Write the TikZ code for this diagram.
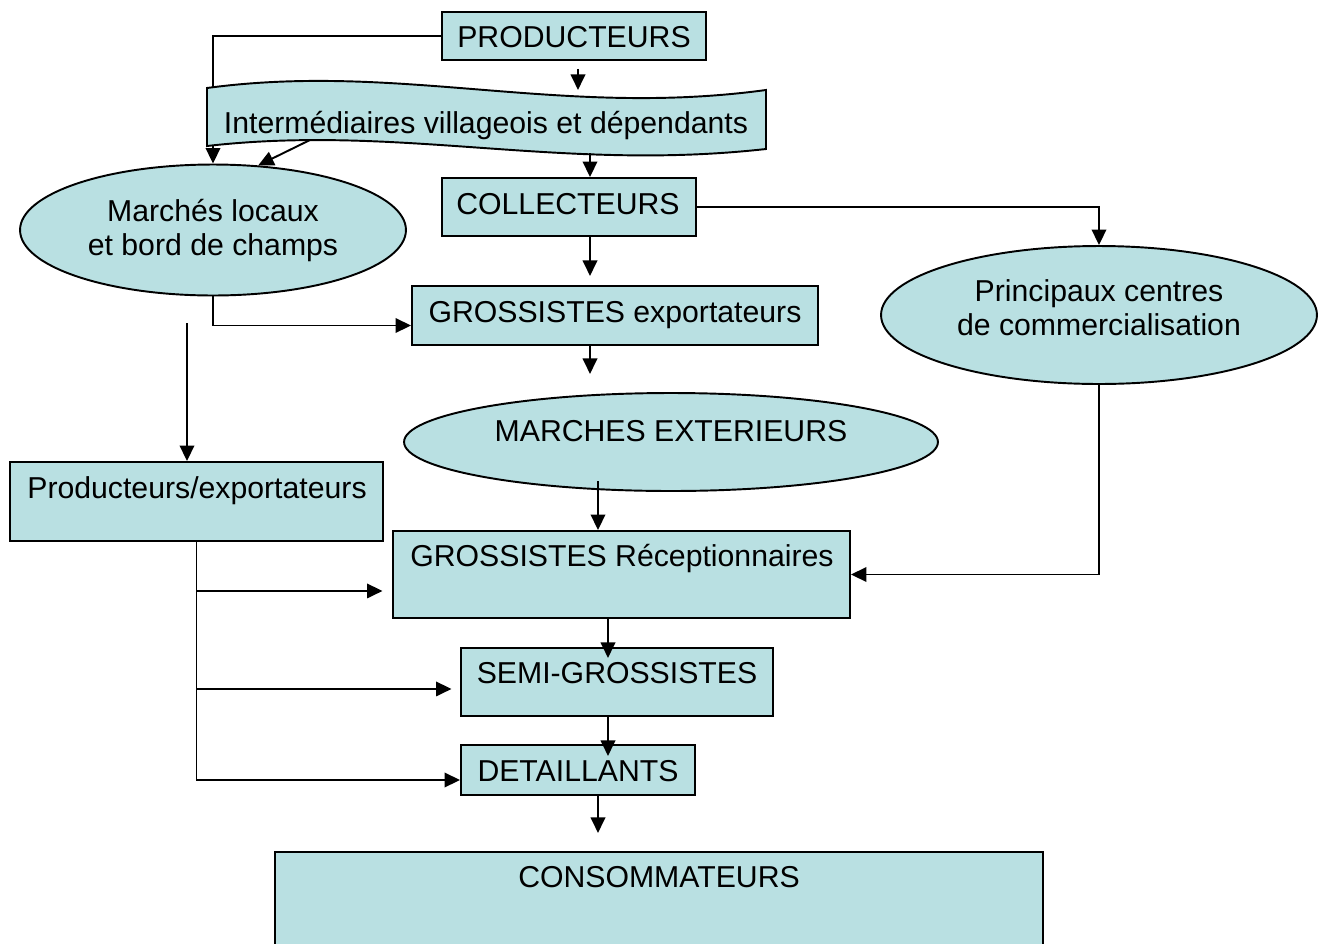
\documentclass[tikz,border=0pt]{standalone}
\usepackage{fontspec}
\setmainfont{Liberation Sans}
\usetikzlibrary{arrows.meta,calc,fit,shapes.geometric}
\definecolor{boxfill}{RGB}{185,224,226}
\tikzset{
  shapebox/.style={draw=black, line width=1.1pt, fill=boxfill, inner sep=0pt},
  oval/.style={ellipse, draw=black, line width=1.1pt, fill=boxfill, inner sep=0pt},
  lbl/.style={inner sep=0pt, anchor=base, font=\fontsize{17.2}{20}\selectfont},
  ln/.style={line width=1.1pt},
  arr/.style={line width=1.1pt, -{Triangle[length=3.1mm,width=2.9mm]}}
}
\begin{document}
\begin{tikzpicture}[x=0.02cm,y=-0.02cm]
\useasboundingbox (0,0) rectangle (1323,944);
\clip (0,0) rectangle (1323,944);

% boxes and ovals
\node[shapebox, fit={(442,12) (706,60)}] (prod) {};
\node[oval, minimum width=7.72cm, minimum height=2.62cm] (marl) at (213,230) {};
\node[shapebox, fit={(442,178) (696,236)}] (coll) {};
\node[shapebox, fit={(412,286) (818,345)}] (gexp) {};
\node[oval, minimum width=8.72cm, minimum height=2.76cm] (pcc) at (1099,315) {};
\node[oval, minimum width=10.68cm, minimum height=1.96cm] (mext) at (671,442) {};
\node[shapebox, fit={(10,462) (383,541)}] (pexp) {};
\node[shapebox, fit={(393,531) (850,618)}] (grec) {};
\node[shapebox, fit={(461,648) (773,716)}] (semi) {};
\node[shapebox, fit={(461,745) (695,795)}] (det) {};
\node[shapebox, fit={(275,852) (1043,960)}] (cons) {};

% producers straight to the local markets (passes behind the tape shape)
\draw[arr] (prod.west) -| (marl.north);

% punched-tape shape for the village intermediaries
\draw[line width=1.1pt, fill=boxfill]
  (207,88) .. controls (400,62) and (560,118) .. (766,90)
  -- (766,149) .. controls (560,172) and (400,124) .. (207,146) -- cycle;
\node[lbl] (inter) at (486,133) {Intermédiaires villageois et dépendants};
\coordinate (interA) at (310,140);
\coordinate (interB) at (590,153);

% labels
\node[lbl] (prodT) at (574,47) {PRODUCTEURS};
\node[lbl] (marlT1) at (213,221) {Marchés locaux};
\node[lbl] (marlT2) at (213,255) {et bord de champs};
\node[lbl] (collT) at (568,214) {COLLECTEURS};
\node[lbl] (gexpT) at (615,322) {GROSSISTES exportateurs};
\node[lbl] (pccT1) at (1099,301) {Principaux centres};
\node[lbl] (pccT2) at (1099,335) {de commercialisation};
\node[lbl] (mextT) at (671,441) {MARCHES EXTERIEURS};
\node[lbl] (pexpT) at (197,498) {Producteurs/exportateurs};
\node[lbl] (grecT) at (622,566) {GROSSISTES Réceptionnaires};
\node[lbl] (semiT) at (617,683) {SEMI-GROSSISTES};
\node[lbl] (detT) at (578,781) {DETAILLANTS};
\node[lbl] (consT) at (659,887) {CONSOMMATEURS};

% flows
\draw[arr] ($(prod.south)+(4,8)$) -- ++(0,21);
\draw[arr] (interA) -- (marl.55);
\draw[arr] (interB) -- (interB |- coll.north);
\draw[arr] ($(coll.south)+(21,0)$) -- ++(0,39);
\draw[arr] (coll.east) -| (pcc.north);
\draw[arr] (marl.south) |- ($(gexp.west)+(0,10)$);
\coordinate (freeA) at (187,323);
\draw[arr] (freeA) -- (freeA |- pexp.north);
\draw[arr] ($(gexp.south)+(-25,0)$) -- ++(0,28);
\coordinate (mextA) at (598,481);
\draw[arr] (mextA) -- (mextA |- grec.north);
\draw[arr] (pcc.south) |- (grec.east);
\draw[arr] (pexp.south) |- ($(det.west)+(0,10)$);
\draw[arr] ($(pexp.south)+(0,49)$) -- ++(186,0);
\draw[arr] ($(pexp.south)+(0,147)$) -- ++(255,0);
\draw[arr] ($(grec.south)+(-13.5,0)$) -- ++(0,39);
\draw[arr] ($(semi.south)+(-9,0)$) -- ++(0,39);
\draw[arr] ($(det.south)+(20,0)$) -- ++(0,37);
\end{tikzpicture}
\end{document}
